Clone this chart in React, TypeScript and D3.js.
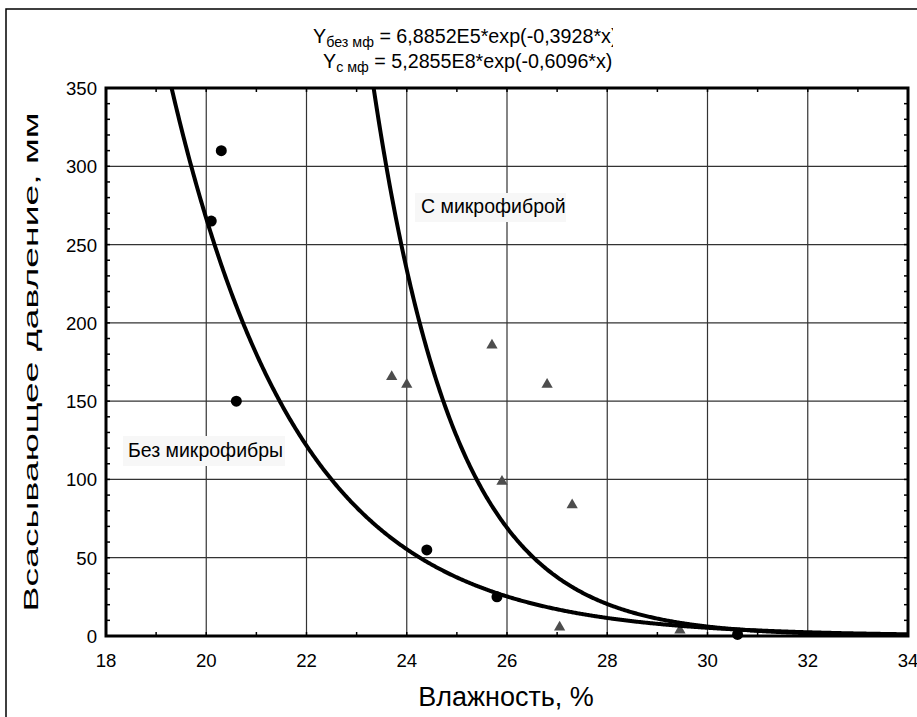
import * as d3 from 'd3';

// measured points, no microfiber (circles)
const noFiberX = [20.3, 20.1, 20.6, 24.4, 25.8, 30.6];
const noFiberY = [310, 265, 150, 55, 25, 1];

// measured points, with microfiber (triangles)
const fiberX = [23.7, 24.0, 25.7, 26.8, 25.9, 27.3, 27.05, 29.45];
const fiberY = [165, 160, 185, 160, 98, 83, 5, 3];

// fitted curves Y = a*exp(b*x)
const fitNoFiber = { a: 6.8852e5, b: -0.3928 };
const fitFiber = { a: 5.2855e8, b: -0.6096 };

const xTicks = [18, 20, 22, 24, 26, 28, 30, 32, 34];
const yTicks = [0, 50, 100, 150, 200, 250, 300, 350];

const W = 917;
const H = 717;
const FONT = '"Liberation Sans", Arial, sans-serif';

export default function App() {
  const x = d3.scaleLinear().domain([18, 34]).range([106, 908]);
  const y = d3.scaleLinear().domain([0, 350]).range([636, 88]);

  const curve = (fit: { a: number; b: number }) => {
    const xs = d3.range(18, 34.001, 0.02);
    return d3
      .line<number>()
      .x((d) => x(d))
      .y((d) => y(fit.a * Math.exp(fit.b * d)))(xs);
  };

  const minorX = d3.range(18, 34.001, 1);
  const minorY = d3.range(0, 350.001, 10);
  const tri = d3.symbol().type(d3.symbolTriangle).size(55)();

  return (
    <svg width={W} height={H} style={{ position: 'absolute', left: 0, top: 0 }} fontFamily={FONT}>
      <rect x={0} y={0} width={W} height={H} fill="#fff" />
      <rect x={6} y={9} width={W + 10} height={H + 10} fill="none" stroke="#000" strokeWidth={1.5} />

      <defs>
        <clipPath id="plot">
          <rect x={x(18)} y={y(350)} width={x(34) - x(18)} height={y(0) - y(350)} />
        </clipPath>
        <clipPath id="title1">
          <rect x={0} y={0} width={613} height={60} />
        </clipPath>
      </defs>

      {/* title */}
      <text x={313} y={43} fontSize={19.7} clipPath="url(#title1)">
        Y<tspan fontSize={14.3} dy={4}>без мф</tspan>
        <tspan dy={-4}> = 6,8852E5*exp(-0,3928*x)</tspan>
      </text>
      <text x={323} y={68} fontSize={19.7}>
        Y<tspan fontSize={14.3} dy={4}>с мф</tspan>
        <tspan dy={-4}>{'  = 5,2855E8*exp(-0,6096*x)'}</tspan>
      </text>

      {/* grid */}
      {xTicks.slice(1, -1).map((t) => (
        <line key={'gx' + t} x1={x(t)} x2={x(t)} y1={y(350)} y2={y(0)} stroke="#333" strokeWidth={1.2} />
      ))}
      {yTicks.slice(1, -1).map((t) => (
        <line key={'gy' + t} x1={x(18)} x2={x(34)} y1={y(t)} y2={y(t)} stroke="#333" strokeWidth={1.2} />
      ))}

      {/* minor ticks, inward on all sides */}
      {minorX.map((t) => (
        <g key={'mx' + t}>
          <line x1={x(t)} x2={x(t)} y1={y(0)} y2={y(0) - 4} stroke="#000" strokeWidth={1.5} />
          <line x1={x(t)} x2={x(t)} y1={y(350)} y2={y(350) + 4} stroke="#000" strokeWidth={1.5} />
        </g>
      ))}
      {minorY.map((t) => (
        <g key={'my' + t}>
          <line x1={x(18)} x2={x(18) + 4} y1={y(t)} y2={y(t)} stroke="#000" strokeWidth={1.5} />
          <line x1={x(34)} x2={x(34) - 4} y1={y(t)} y2={y(t)} stroke="#000" strokeWidth={1.5} />
        </g>
      ))}

      {/* labels inside plot */}
      <rect x={123} y={436} width={162} height={30} fill="#f7f7f7" />
      <text x={128} y={457} fontSize={19.5}>Без микрофибры</text>
      <rect x={415} y={193} width={151} height={29} fill="#f7f7f7" />
      <text x={421} y={213} fontSize={19.5}>С микрофиброй</text>

      {/* markers */}
      {fiberX.map((d, i) => (
        <path key={'t' + i} d={tri ?? ''} transform={`translate(${x(d)},${y(fiberY[i]) - 1})`} fill="#4d4d4d" />
      ))}
      {noFiberX.map((d, i) => (
        <circle key={'c' + i} cx={x(d)} cy={y(noFiberY[i])} r={5.5} fill="#000" />
      ))}

      {/* fitted curves */}
      <g clipPath="url(#plot)">
        <path d={curve(fitNoFiber) ?? ''} fill="none" stroke="#000" strokeWidth={4} />
        <path d={curve(fitFiber) ?? ''} fill="none" stroke="#000" strokeWidth={4} />
      </g>

      {/* frame */}
      <rect x={x(18)} y={y(350)} width={x(34) - x(18)} height={y(0) - y(350)} fill="none" stroke="#000" strokeWidth={3} />

      {/* tick labels */}
      {xTicks.map((t) => (
        <text key={'xl' + t} x={x(t)} y={667} textAnchor="middle" fontSize={18.6}>
          {t}
        </text>
      ))}
      {yTicks.map((t) => (
        <text key={'yl' + t} x={97} y={y(t) + 7} textAnchor="end" fontSize={18.6}>
          {t}
        </text>
      ))}

      {/* axis titles */}
      <text x={506} y={706} textAnchor="middle" fontSize={27}>
        Влажность, %
      </text>
      <text transform={`translate(38,362) rotate(-90) scale(1.78,1)`} textAnchor="middle" fontSize={21}>
        Всасывающее давление, мм
      </text>
    </svg>
  );
}
